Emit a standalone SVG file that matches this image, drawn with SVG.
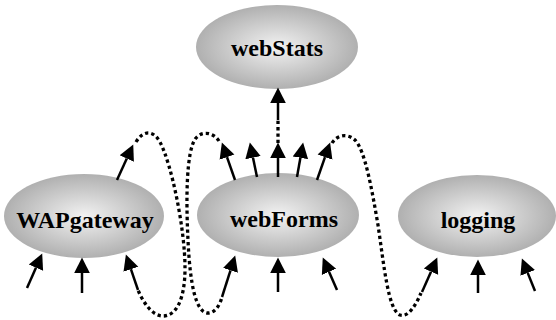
<svg xmlns="http://www.w3.org/2000/svg" width="556" height="320" viewBox="0 0 556 320">
<style>
.node ellipse{fill:url(#g);stroke:none}
.node text{font-family:"Liberation Serif","Times New Roman",serif;font-weight:bold;font-size:24px;fill:#000;text-anchor:middle}
.arr{stroke:#000;stroke-width:2.5;fill:none;marker-end:url(#ah)}
.dot{stroke:#000;stroke-width:3.3;fill:none;stroke-dasharray:3.3 3}
</style>
<defs>
<radialGradient id="g" cx="50%" cy="50%" r="50%">
<stop offset="0" stop-color="#f2f2f2"/>
<stop offset="1" stop-color="#b0b0b0"/>
</radialGradient>
<marker id="ah" markerUnits="userSpaceOnUse" markerWidth="18" markerHeight="18" viewBox="0 -9 18 18" refX="0" refY="0" orient="auto">
<path d="M0,-7.8 L15.5,0 L0,7.8 Z" fill="#000"/>
</marker>
</defs>
<rect width="556" height="320" fill="#fff"/>
<g id="webStats" class="node"><ellipse cx="277" cy="47" rx="81" ry="42"/><text x="277" y="56">webStats</text></g>
<g id="WAPgateway" class="node"><ellipse cx="84" cy="216" rx="80" ry="42"/><text x="85" y="228">WAPgateway</text></g>
<g id="webForms" class="node"><ellipse cx="278" cy="215" rx="81" ry="42"/><text x="284" y="227">webForms</text></g>
<g id="logging" class="node"><ellipse cx="477" cy="216" rx="79" ry="41"/><text x="478" y="228">logging</text></g>
<g id="connectors">
<path class="arr" d="M27,288 L35.95,267.7"/>
<path class="arr" d="M82,293 L82,273"/>
<path class="arr" d="M138,290 L130.9,269.2"/>
<path class="arr" d="M117,180 L126.8,158.6"/>
<path class="arr" d="M235,180 L227,157.2"/>
<path class="arr" d="M257,177 L253,157.7"/>
<path class="arr" d="M278,177 L278,158"/>
<path class="arr" d="M297,177 L300.4,157.8"/>
<path class="arr" d="M317,180 L325,157.2"/>
<path class="arr" d="M222,297 L230.5,270.3"/>
<path class="arr" d="M278,292 L278,273"/>
<path class="arr" d="M337,290 L329,271.8"/>
<path class="arr" d="M422,292 L431,271.7"/>
<path class="arr" d="M478,293 L478,275"/>
<path class="arr" d="M535,291 L527.7,272.9"/>
<path class="arr" d="M278,120 L278,103"/>
<path class="dot" d="M278,143 L278,120"/>
<path class="dot" d="M136,142 C142,132 152,128 160,142 C172,165 185,230 185,268 C185,300 176,316 163,316 C152,316 143,302 138,290"/>
<path class="dot" d="M219,141 C214,133 203,130 196,138 C186,150 186,200 188,240 C190,285 196,313 208,313 C215,313 220,305 222,297"/>
<path class="dot" d="M332,143 C337,135 347,133 355,140 C365,150 372,190 378,225 C384,265 388,310 400,315 C408,318 416,305 421,293"/>
</g>
</svg>
